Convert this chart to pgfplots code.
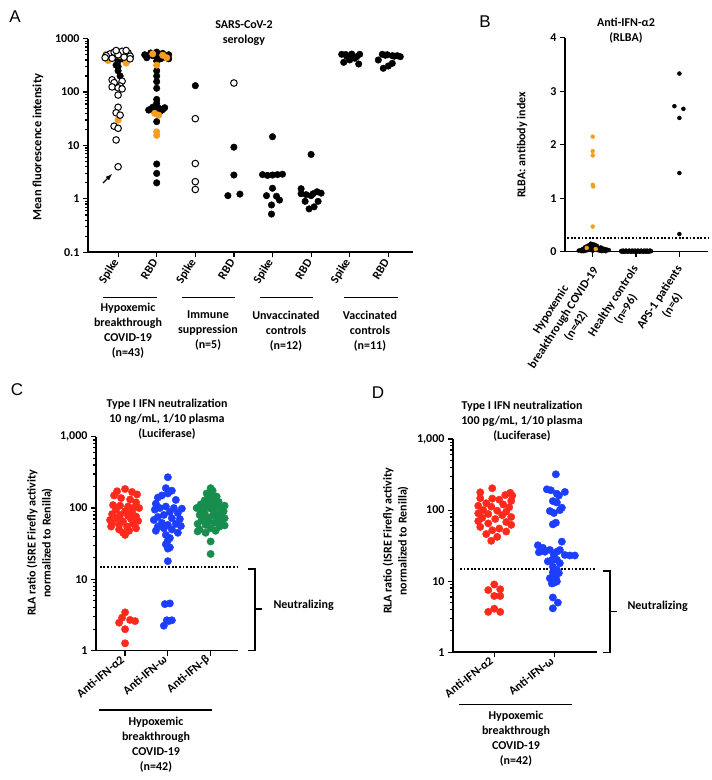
\documentclass[border=0pt]{standalone}
\usepackage{fontspec}
\setmainfont{Carlito}
\newfontfamily\letterfont{Liberation Sans}
\usepackage{pgfplots}
\pgfplotsset{compat=1.18}
\definecolor{myorange}{RGB}{247,158,28}
\definecolor{myred}{RGB}{255,42,28}
\definecolor{myblue}{RGB}{28,62,255}
\definecolor{mygreen}{RGB}{24,142,78}
\newcommand\lab{\bfseries\fontsize{12}{15}\selectfont}
\pgfplotsset{
  panel/.style={scale only axis, axis lines*=left, tick align=outside,
    axis line style={-, line width=1.6pt},
    every tick/.style={black, line width=1.2pt},
    major tick length=5pt, minor tick length=3pt,
    ticklabel style={font=\bfseries\fontsize{12}{14}\selectfont},
    clip=false, anchor=south west},
  blk/.style={only marks, mark=*, mark options={draw=black, fill=black}},
  opn/.style={only marks, mark=*, mark options={draw=black, fill=white, line width=1pt}},
  org/.style={only marks, mark=*, mark options={draw=myorange, fill=myorange}},
  colm/.style={only marks, mark=*, mark options={draw=#1, fill=#1}},
  dots/.style={dash pattern=on 1.8pt off 1.8pt, line width=1.8pt, black},
  logminor/.style={minor ytick={0.2,0.3,0.4,0.5,0.6,0.7,0.8,0.9,2,3,4,5,6,7,8,9,20,30,40,50,60,70,80,90,200,300,400,500,600,700,800,900}},
}
\begin{document}
\begin{tikzpicture}[x=1pt,y=1pt]
\useasboundingbox (0,0) rectangle (712,780);

% ================= Panel A =================
\begin{axis}[panel, at={(88pt,527.7pt)}, width=325pt, height=213.6pt,
  ymode=log, ymin=0.1, ymax=1000, xmin=0.22, xmax=8.64,
  ytick={0.1,1,10,100,1000}, yticklabels={0.1,1,10,100,1000}, logminor,
  xtick={1,2,3,4,5,6,7,8},
  xticklabels={Spike,RBD,Spike,RBD,Spike,RBD,Spike,RBD},
  xticklabel style={rotate=58, anchor=east},
  mark size=3.3pt]
\addplot[blk] table[row sep=\\, x expr=\thisrow{c}+\thisrow{o}/38.6, y=v] {
c o v\\
1 -4 540\\ 1 8 520\\ 1 4 420\\ 1 0 380\\ 1 -2 320\\ 1 0 250\\ 1 2 200\\ 1 0 300\\
2 -12 500\\ 2 -6 540\\ 2 0 560\\ 2 6 530\\ 2 12 500\\ 2 -10 440\\ 2 0 460\\ 2 8 450\\ 2 12 420\\ 2 -4 480\\ 2 4 420\\ 2 0 380\\
2 0 250\\ 2 0 200\\ 2 0 157\\ 2 0 118\\ 2 0 73\\ 2 0 62\\ 2 -4 52\\ 2 2 50\\ 2 -6 48\\ 2 6 47\\ 2 -2 45\\ 2 4 44\\ 2 0 46\\ 2 -8 46\\ 2 8 51\\ 2 0 28\\ 2 0 4.5\\ 2 0 3.0\\ 2 0 2.0\\
3 0 132\\
4 0 9.3\\ 4 0 2.8\\ 4 -6 1.15\\ 4 6 1.23\\
5 0 14.6\\ 5 -10 2.85\\ 5 -5 2.75\\ 5 0 2.8\\ 5 5 2.85\\ 5 10 2.9\\ 5 0 1.58\\ 5 -6 1.15\\ 5 4 1.12\\ 5 7 0.95\\ 5 -1 0.77\\ 5 -1 0.52\\
6 0 6.8\\ 6 -10 1.55\\ 6 6 1.36\\ 6 -10 1.25\\ 6 -5 1.2\\ 6 2 1.25\\ 6 10 1.28\\ 6 0 1.15\\ 6 -6 0.9\\ 6 7 0.9\\ 6 -2 0.65\\ 6 3 0.71\\
7 -8 510\\ 7 -4 505\\ 7 2 515\\ 7 10 510\\ 7 2 460\\ 7 7 460\\ 7 -3 470\\ 7 0 400\\ 7 -6 361\\ 7 9 336\\ 7 5 430\\
8 -10 399\\ 8 -6 510\\ 8 -1 500\\ 8 4 480\\ 8 9 480\\ 8 -5 279\\ 8 0 308\\ 8 4 346\\ 8 -3 490\\ 8 6 470\\ 8 12 460\\
};
\addplot[org] table[row sep=\\, x expr=\thisrow{c}+\thisrow{o}/38.6, y=v] {
c o v\\
1 -12 510\\ 1 -8 470\\ 1 -10 390\\ 1 2 480\\ 1 8 350\\ 1 -2 140\\ 1 0 30\\
2 -4 520\\ 2 6 490\\ 2 10 440\\ 2 0 320\\ 2 -2 40\\ 2 2 37\\ 2 0 18\\ 2 0 15.5\\
};
\addplot[opn] table[row sep=\\, x expr=\thisrow{c}+\thisrow{o}/38.6, y=v] {
c o v\\
1 -8 520\\ 1 -4 560\\ 1 4 580\\ 1 10 540\\ 1 12 470\\ 1 -12 480\\ 1 0 500\\ 1 6 450\\ 1 -6 430\\ 1 12 420\\ 1 -13 440\\ 1 8 600\\ 1 -2 600\\
1 -6 170\\ 1 4 160\\ 1 -4 150\\ 1 2 130\\ 1 -6 125\\ 1 0 120\\ 1 4 115\\ 1 0 88\\ 1 0 52\\ 1 -2 41\\ 1 2 37\\ 1 -4 23\\ 1 0 21\\ 1 -2 12.7\\ 1 0 4.0\\
3 0 31.8\\ 3 0 4.6\\ 3 0 2.1\\ 3 0 1.5\\
4 0 148\\
};
\end{axis}
\draw[-latex, line width=1.2pt] (103,780-183) -- (112,780-174);
\node[font=\letterfont\fontsize{17}{20}\selectfont] at (15,780-17) {A};
\node[font=\lab, align=center] at (244,780-33.5) {SARS-CoV-2\\serology};
\node[font=\bfseries\fontsize{12.5}{15}\selectfont, rotate=90] at (38,780-147) {Mean fluorescence intensity};
\begin{scope}[line width=1.2pt]
\draw (103,482.3) -- (157,482.3);
\draw (182,482.3) -- (235,482.3);
\draw (260,482.3) -- (313,482.3);
\draw (344,482.3) -- (398,482.3);
\end{scope}
\begin{scope}[every node/.style={font=\lab, align=center}]
\node at (128,449) {Hypoxemic\\breakthrough\\COVID-19\\(n=43)};
\node at (208,449) {Immune\\suppression\\(n=5)};
\node at (286,449) {Unvaccinated\\controls\\(n=12)};
\node at (370,449) {Vaccinated\\controls\\(n=11)};
\end{scope}

% ================= Panel B =================
\begin{axis}[panel, at={(565pt,528.3pt)}, width=143pt, height=214pt,
  ymin=0, ymax=4, xmin=0.36, xmax=3.66,
  ytick={0,1,2,3,4}, yticklabels={0,1,2,3,4},
  xtick={1,2,3}, xticklabels={,,},
  mark size=2pt]
\addplot[dots] coordinates {(0.41,0.25) (3.66,0.25)};
\addplot[blk] table[row sep=\\, x expr=\thisrow{c}+\thisrow{o}/43.3, y=v] {
c o v\\
1 -2 0.15\\ 1 0 0.14\\ 1 2 0.13\\ 1 -4 0.12\\ 1 4 0.11\\ 1 -8 0.08\\ 1 -6 0.06\\ 1 -10 0.05\\ 1 -12 0.03\\ 1 -14 0.02\\
1 8 0.08\\ 1 10 0.06\\ 1 12 0.05\\ 1 14 0.04\\ 1 16 0.03\\ 1 -3 0.09\\ 1 3 0.08\\ 1 -1 0.05\\ 1 1 0.04\\ 1 5 0.03\\
1 -5 0.03\\ 1 7 0.02\\ 1 -7 0.02\\ 1 9 0.01\\ 1 -9 0.01\\ 1 11 0.02\\ 1 -11 0.01\\ 1 13 0.01\\ 1 0 0.02\\ 1 6 0.05\\
1 -2 0.06\\ 1 2 0.10\\ 1 -6 0.10\\ 1 0 0.08\\
2 -15 0.01\\ 2 -14 0.0\\ 2 -13 0.02\\ 2 -12 0.01\\ 2 -11 0.0\\ 2 -10 0.02\\ 2 -9 0.01\\ 2 -8 0.0\\ 2 -7 0.02\\ 2 -6 0.01\\
2 -5 0.0\\ 2 -4 0.02\\ 2 -3 0.01\\ 2 -2 0.0\\ 2 -1 0.02\\ 2 0 0.01\\ 2 1 0.0\\ 2 2 0.02\\ 2 3 0.01\\ 2 4 0.0\\
2 5 0.02\\ 2 6 0.01\\ 2 7 0.0\\ 2 8 0.02\\ 2 9 0.01\\ 2 10 0.0\\ 2 11 0.02\\ 2 12 0.01\\ 2 13 0.0\\ 2 14 0.02\\ 2 15 0.01\\
2 -14.5 0.015\\ 2 -12.5 0.005\\ 2 -10.5 0.015\\ 2 -8.5 0.005\\ 2 -6.5 0.015\\ 2 -4.5 0.005\\ 2 -2.5 0.015\\ 2 -0.5 0.005\\
2 1.5 0.015\\ 2 3.5 0.005\\ 2 5.5 0.015\\ 2 7.5 0.005\\ 2 9.5 0.015\\ 2 11.5 0.005\\ 2 13.5 0.015\\
3 0 3.33\\ 3 -5 2.72\\ 3 4 2.67\\ 3 0 2.5\\ 3 0 1.47\\ 3 0 0.33\\
};
\addplot[org] table[row sep=\\, x expr=\thisrow{c}+\thisrow{o}/43.3, y=v] {
c o v\\
1 0 2.15\\ 1 0 1.88\\ 1 0 1.80\\ 1 0 1.25\\ 1 0.5 1.22\\ 1 0 0.47\\ 1 -6 0.07\\ 1 3 0.05\\
};
\end{axis}
\begin{scope}[every node/.style={font=\lab, align=center, rotate=57, anchor=east, inner sep=0pt}]
\node at (596,512) {Hypoxemic\\breakthrough COVID-19\\(n=42)};
\node at (642,509) {Healthy controls\\(n=96)};
\node at (686,509) {APS-1 patients\\(n=6)};
\end{scope}
\node[font=\letterfont\fontsize{17}{20}\selectfont] at (485,780-22) {B};
\node[font=\lab, align=center] at (626,780-30.5) {Anti-IFN-α2\\(RLBA)};
\node[font=\lab, rotate=90] at (522,780-145) {RLBA: antibody index};

% ================= Panel C =================
\begin{axis}[panel, at={(96pt,129.3pt)}, width=142pt, height=214pt,
  ymode=log, ymin=1, ymax=1000, xmin=0.32, xmax=3.64,
  ytick={1,10,100,1000}, yticklabels={1,10,100,{1,000}}, logminor,
  xtick={1,2,3},
  xticklabels={Anti-IFN-α2,Anti-IFN-ω,Anti-IFN-β},
  xticklabel style={rotate=40, anchor=east},
  mark size=3.7pt]
\addplot[dots] coordinates {(0.41,15) (3.69,15)};
\addplot[colm=myred] table[row sep=\\, x expr=1+\thisrow{o}/42.8, y=v] {
o v\\
0 185\\ -8 172\\ 7 168\\ 12 155\\ -11 150\\ -4 138\\ 5 132\\ 11 120\\ -12 110\\ -5 108\\ 3 105\\ 9 102\\ 14 100\\
-9 95\\ 0 90\\ 7 88\\ -13 82\\ -5 80\\ 3 78\\ 11 76\\ -8 72\\ 6 70\\ 13 66\\ -2 65\\ -13 62\\ 8 60\\ -6 58\\
-14 55\\ 2 55\\ 11 52\\ -6 50\\ 4 48\\ -2 45\\ 0 42\\ -15 68\\
0 3.45\\ -3 2.9\\ 5 2.7\\ 10 2.6\\ -6 2.47\\ 0 2.0\\ 0 1.27\\
};
\addplot[colm=myblue] table[row sep=\\, x expr=2+\thisrow{o}/42.8, y=v] {
o v\\
0 270\\ -2 190\\ 4 175\\ 0 160\\ -6 150\\ -10 140\\ 8 130\\ -12 115\\ -2 105\\ -8 100\\ 6 100\\ 14 98\\
-13 95\\ 2 88\\ 10 85\\ -4 80\\ -10 75\\ 4 72\\ 12 70\\ -14 68\\ -6 62\\ 8 60\\ 0 58\\ 13 56\\ -10 55\\ -4 52\\
4 50\\ -12 48\\ 10 45\\ -2 42\\ 2 38\\ 0 35\\ -2 31\\ 2 28\\ 0 27\\ 0 18\\
-3 4.5\\ 2 4.6\\ -1 2.67\\ 4 2.67\\ 1 2.6\\ -4 2.24\\
};
\addplot[colm=mygreen] table[row sep=\\, x expr=3+\thisrow{o}/42.8, y=v] {
o v\\
0 22.7\\ 0 34\\ -5 45\\ 5 48\\ -11 50\\ 0 52\\ 9 55\\ -5 58\\ -13 60\\ 4 62\\ 11 64\\ -2 65\\ -9 68\\ 7 70\\
14 72\\ -4 75\\ 2 78\\ -11 80\\ 9 82\\ -6 85\\ 4 88\\ 13 90\\ -10 95\\ 0 98\\ -14 100\\ 9 102\\ -4 105\\ 14 108\\
4 110\\ -10 112\\ 0 118\\ 8 122\\ -6 128\\ 4 132\\ -2 140\\ 6 145\\ 0 150\\ -4 160\\ 2 175\\ 0 190\\ 14 57\\ -13 47\\
};
\end{axis}
\node[font=\letterfont\fontsize{17}{20}\selectfont] at (17,780-390) {C};
\node[font=\lab, align=center] at (167,780-419) {Type I IFN neutralization\\10 ng/mL, 1/10 plasma\\(Luciferase)};
\node[font=\lab, align=center, rotate=90] at (39.5,780-543) {RLA ratio (ISRE Firefly activity\\normalized to Renilla)};
\draw[line width=1.2pt] (99,70) -- (212,70);
\node[font=\lab, align=center] at (156,35) {Hypoxemic\\breakthrough\\COVID-19\\(n=42)};
\draw[line width=1.2pt] (248,211) -- (255,211) -- (255,129.3) -- (248,129.3);
\draw[line width=1.2pt] (255,171) -- (262,171);
\node[font=\lab, anchor=west] at (270,175) {Neutralizing};

% ================= Panel D =================
\begin{axis}[panel, at={(453pt,127.7pt)}, width=143.7pt, height=213.3pt,
  ymode=log, ymin=1, ymax=1000, xmin=0.32, xmax=2.69,
  ytick={1,10,100,1000}, yticklabels={1,10,100,{1,000}}, logminor,
  xtick={1,2},
  xticklabels={Anti-IFN-α2,Anti-IFN-ω},
  xticklabel style={rotate=38, anchor=east},
  mark size=3.7pt]
\addplot[dots] coordinates {(0.435,15) (2.69,15)};
\addplot[colm=myred] table[row sep=\\, x expr=1+\thisrow{o}/60.7, y=v] {
o v\\
-2 203\\ -14 178\\ 16 175\\ 11 163\\ 18 160\\ -14 147\\ -2 145\\ 5 140\\ 17 135\\ -8 125\\ 9 120\\ -16 115\\
-3 112\\ 15 110\\ -11 100\\ 3 98\\ 12 95\\ -16 90\\ -6 88\\ 8 85\\ 17 80\\ -12 78\\ 1 75\\ -16 70\\ 12 68\\
-6 65\\ 17 62\\ -14 58\\ 5 55\\ -2 52\\ 12 50\\ -8 46\\ 3 42\\ -3 37\\
0 9.0\\ -6 7.5\\ 6 7.7\\ 0 6.2\\ 6 6.2\\ 0 4.1\\ -6 3.7\\ 6 3.7\\
};
\addplot[colm=myblue] table[row sep=\\, x expr=2+\thisrow{o}/60.7, y=v] {
o v\\
1 319\\ -8 196\\ -4 190\\ 10 180\\ 2 170\\ 4 160\\ -2 134\\ 2 128\\ 7 108\\ -5 97\\ -1 91\\ 5 100\\
1 66.5\\ -2 63\\ 7 36\\ -17 32\\ -12 29.5\\ -5 27.5\\ 5 27.5\\ -10 26\\ 2 26\\ -16 25.5\\ 10 23.4\\ 15 23\\
20 23\\ -1 23.4\\ -3 19.9\\ 2 20\\ -7 19\\ 5 17.9\\ -2 16\\ 2 14.4\\ -2 13.3\\ 4 13\\ -5 11\\ 1 11\\ -1 9.5\\
2 9.9\\ -3 9.3\\ -2 5.9\\ 3 5.0\\ -2 4.15\\
};
\end{axis}
\node[font=\letterfont\fontsize{17}{20}\selectfont] at (378,780-393) {D};
\node[font=\lab, align=center] at (522,780-421) {Type I IFN neutralization\\100 pg/mL, 1/10 plasma\\(Luciferase)};
\node[font=\lab, align=center, rotate=90] at (395.5,780-541) {RLA ratio (ISRE Firefly activity\\normalized to Renilla)};
\draw[line width=1.2pt] (459,75.7) -- (572,75.7);
\node[font=\lab, align=center] at (516,41.5) {Hypoxemic\\breakthrough\\COVID-19\\(n=42)};
\draw[line width=1.2pt] (603,209) -- (610,209) -- (610,127.7) -- (603,127.7);
\draw[line width=1.2pt] (610,168.3) -- (617,168.3);
\node[font=\lab, anchor=west] at (624,173.3) {Neutralizing};
\end{tikzpicture}
\end{document}
